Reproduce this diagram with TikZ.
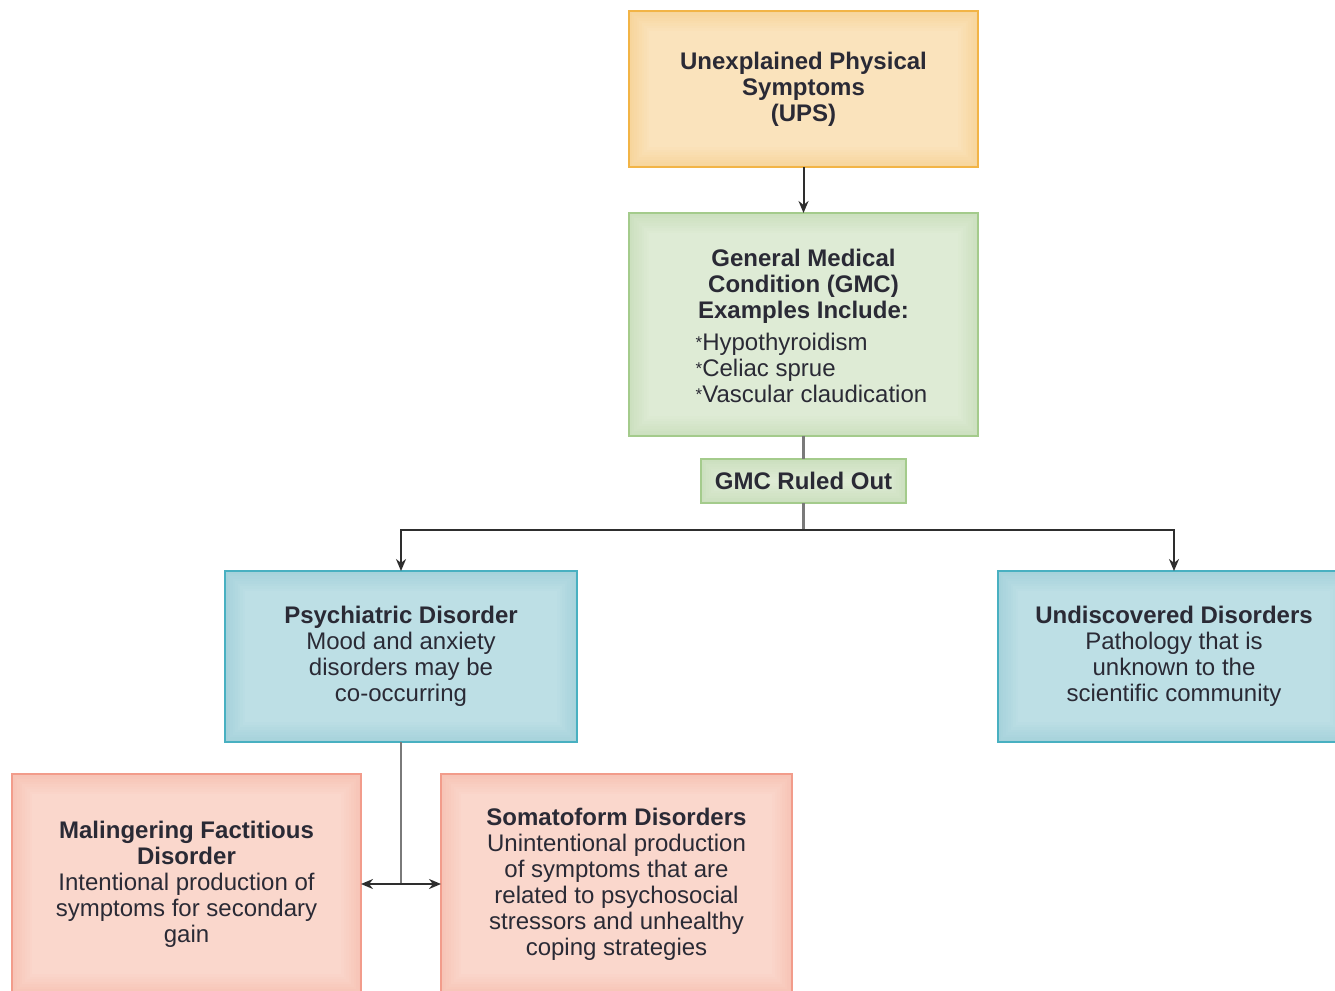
\documentclass[tikz,border=0pt]{standalone}
\usepackage{fontspec}
\setmainfont{Liberation Sans}
\usetikzlibrary{arrows.meta,backgrounds}

\definecolor{ink}{HTML}{2A2A35}
\definecolor{wire}{HTML}{2E2E2E}
\definecolor{stem}{HTML}{7A7A7A}
% box palettes: border, edge tone, centre tone
\definecolor{upsLine}{HTML}{F2B446}
\definecolor{upsEdge}{HTML}{F7D59C}
\definecolor{upsMid}{HTML}{FAE3BC}
\definecolor{gmcLine}{HTML}{A4CB8C}
\definecolor{gmcEdge}{HTML}{CCE0BF}
\definecolor{gmcMid}{HTML}{DEEBD5}
\definecolor{psyLine}{HTML}{48B0C1}
\definecolor{psyEdge}{HTML}{A6D2DB}
\definecolor{psyMid}{HTML}{BDDFE5}
\definecolor{malLine}{HTML}{F29C8B}
\definecolor{malEdge}{HTML}{F7C4B6}
\definecolor{malMid}{HTML}{FAD7CC}

% soft fill that darkens towards the border of a named node
\newcommand\glowfill[3]{%
  \begin{pgfonlayer}{background}
    \foreach \i in {0,...,8}{%
      \pgfmathtruncatemacro\p{\i*100/8}%
      \fill[#3!\p!#2] ([xshift=\i*2.5pt,yshift=\i*2.5pt]#1.south west)
        rectangle ([xshift=-\i*2.5pt,yshift=-\i*2.5pt]#1.north east);
    }
  \end{pgfonlayer}}
% small raised asterisk of the example list
\newcommand\listmark{\raisebox{2pt}{\fontsize{17}{17}\selectfont *}}

\tikzset{
  box/.style={draw=#1, line width=1.6pt, inner sep=0pt, outer sep=0pt,
    align=center, text=ink, font=\fontsize{24}{26}\selectfont},
  words/.style={inner sep=0pt, align=center, text=ink, font=\fontsize{24}{26}\selectfont},
  link/.style={draw=wire, line width=2pt},
  stemline/.style={draw=stem, line width=2.4pt},
  tip/.style={-{Stealth[length=12pt,width=10pt]}},
}

\begin{document}
\begin{tikzpicture}[x=1pt,y=-1pt]
\useasboundingbox (0,0) rectangle (1335,990);
\clip (0,0) rectangle (1335,990);

\node[box=upsLine, minimum width=349pt, minimum height=156pt] (ups) at (803.5,89)
  {\textbf{Unexplained Physical}\\\textbf{Symptoms}\\\textbf{(UPS)}};

\node[box=gmcLine, minimum width=349pt, minimum height=223pt] (gmc) at (803.5,324.5) {};
\node[words] (gmctext) at (gmc.center) [yshift=-5pt]
  {\textbf{General Medical}\\\textbf{Condition (GMC)}\\\textbf{Examples Include:}\\[8pt]
   \begin{tabular}{@{\hspace{16pt}}l@{}}
   \listmark Hypothyroidism\\{}\listmark Celiac sprue\\{}\listmark Vascular claudication
   \end{tabular}};

\node[box=gmcLine, minimum width=205pt, minimum height=44pt] (ruled) at (803.5,481)
  {\textbf{GMC Ruled Out}};

\node[box=psyLine, minimum width=352pt, minimum height=171pt] (psych) at (401,656.5)
  {\textbf{Psychiatric Disorder}\\Mood and anxiety\\disorders may be\\co-occurring};

\node[box=psyLine, minimum width=352pt, minimum height=171pt] (undisc) at (1174,656.5)
  {\textbf{Undiscovered Disorders}\\Pathology that is\\unknown to the\\scientific community};

\node[box=malLine, minimum width=349pt, minimum height=220pt] (maling) at (186.5,884)
  {\textbf{Malingering Factitious}\\\textbf{Disorder}\\Intentional production of\\symptoms for secondary\\gain};

\node[box=malLine, minimum width=351pt, minimum height=220pt] (somato) at (616.5,884)
  {\textbf{Somatoform Disorders}\\Unintentional production\\of symptoms that are\\related to psychosocial\\stressors and unhealthy\\coping strategies};

\glowfill{ups}{upsEdge}{upsMid}
\glowfill{gmc}{gmcEdge}{gmcMid}
\glowfill{ruled}{gmcEdge}{gmcMid}
\glowfill{psych}{psyEdge}{psyMid}
\glowfill{undisc}{psyEdge}{psyMid}
\glowfill{maling}{malEdge}{malMid}
\glowfill{somato}{malEdge}{malMid}

% branch points
\coordinate (split) at (803.5,530);
\coordinate (fork) at (401,884);

\draw[link,tip] (ups) -- (gmc);
\draw[stemline] (gmc) -- (ruled);
\draw[stemline] (ruled) -- (split);
\draw[link,tip] (split) -| (psych.north);
\draw[link,tip] (split) -| (undisc.north);
\draw[stemline] (psych.south) -- (fork);
\draw[link,tip] (fork) -- (maling.east);
\draw[link,tip] (fork) -- (somato.west);
\end{tikzpicture}
\end{document}
